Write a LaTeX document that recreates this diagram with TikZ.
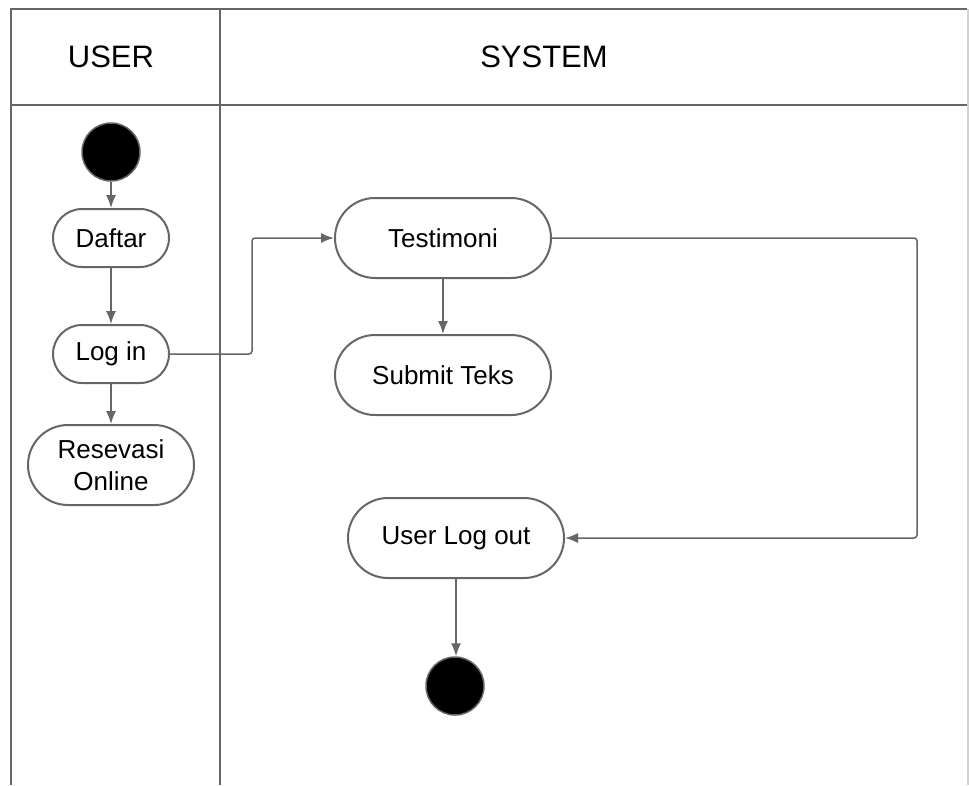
\documentclass[tikz,border=0pt]{standalone}
\usepackage{fontspec}
\setmainfont{Liberation Sans}
\usetikzlibrary{shapes.misc,arrows.meta}
\definecolor{linegray}{HTML}{666666}
\tikzset{
    lane/.style = {draw = linegray, line width = 2pt},
    action/.style = {rounded rectangle, draw = linegray, line width = 2pt, fill = white,
        inner sep = 0pt, font = \fontsize{26}{32}\selectfont, align = center},
    dot/.style = {circle, fill = black, draw = linegray, line width = 1.5pt,
        minimum size = 58pt, inner sep = 0pt},
    flow/.style = {draw = linegray, line width = 1.5pt, rounded corners = 3pt,
        -{Latex[length = 13pt, width = 10pt]}}
}
\begin{document}
\begin{tikzpicture}[x = 1pt, y = -1pt]
            \useasboundingbox (0,0) rectangle (969,785);
            % swimlanes
            \draw[lane] (11,785) -- (11,9) -- (967,9);
            \draw[lane] (11,105) -- (967,105);
            \draw[lane] (220,9) -- (220,785);
            \draw[draw = linegray!30, line width = 1.5pt] (968,9) -- (968,785);
            \node[font = \fontsize{31}{36}\selectfont] (user) at (111,57) {USER};
            \node[font = \fontsize{31}{36}\selectfont] (system) at (544,57) {SYSTEM};
            % user lane
            \node[dot] (start) at (111,152) {};
            \node[action, minimum width = 116pt, minimum height = 58pt] (daftar) at (111,238) {Daftar};
            \node[action, minimum width = 116pt, minimum height = 58pt] (login) at (111,354) {Log in};
            \node[action, minimum width = 166pt, minimum height = 80pt] (resevasi) at (111,465) {Resevasi\\Online};
            % system lane
            \node[action, minimum width = 216pt, minimum height = 80pt] (testimoni) at (443,238) {Testimoni};
            \node[action, minimum width = 216pt, minimum height = 80pt] (submit) at (443,375) {Submit Teks};
            \node[action, minimum width = 216pt, minimum height = 80pt] (logout) at (456,538) {User Log out};
            \node[dot] (end) at (455,686) {};
            \coordinate (bendA) at (252,354);
            \coordinate (bendB) at (917,238);
            % flows
            \draw[flow] (start) -- (daftar);
            \draw[flow] (daftar) -- (login);
            \draw[flow] (login) -- (resevasi);
            \draw[flow] (login.east) -- (bendA) |- (testimoni.west);
            \draw[flow] (testimoni) -- (submit);
            \draw[flow] (testimoni.east) -- (bendB) |- (logout.east);
            \draw[flow] (logout.south) -- (logout.south |- end.north);
\end{tikzpicture}
\end{document}
